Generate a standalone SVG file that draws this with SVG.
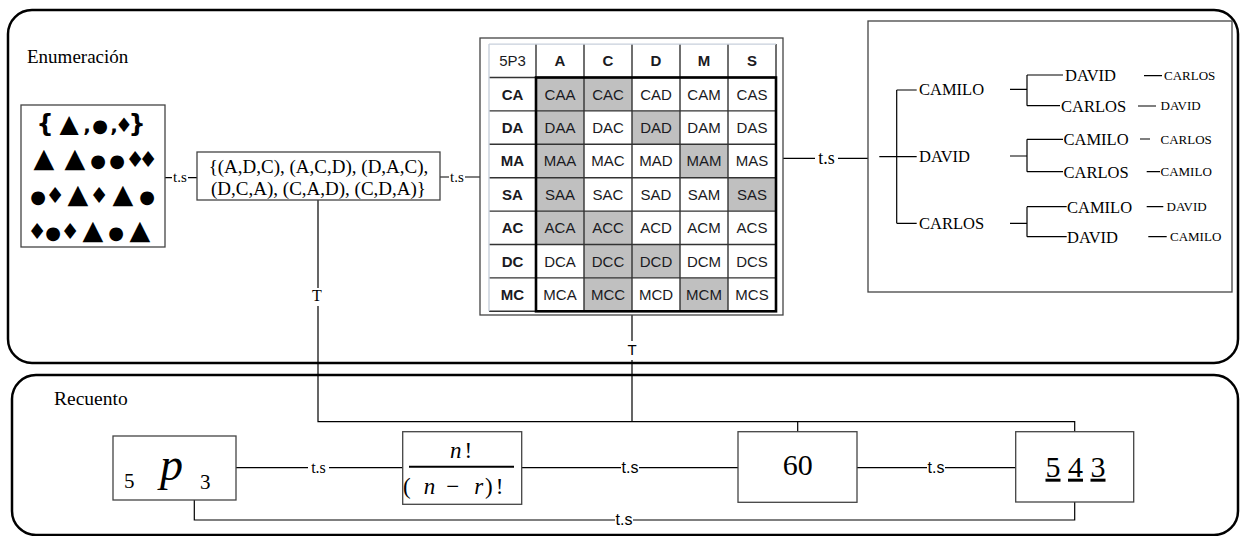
<svg xmlns="http://www.w3.org/2000/svg" width="1241" height="536" viewBox="0 0 1241 536">
<style>
.frame{fill:none;stroke:#000;stroke-width:2.5}
.box{fill:#fff;stroke:#444;stroke-width:1.3}
.ln{fill:none;stroke:#000;stroke-width:1.2}
.tm{font-family:"Liberation Serif","Times New Roman",serif;fill:#000}
.sn{font-family:"Liberation Sans",Arial,sans-serif;fill:#000}
.sym{font-family:"DejaVu Sans",sans-serif;fill:#000;text-anchor:middle}
.th{font-family:"Liberation Sans",Arial,sans-serif;font-size:15px;fill:#1a1a22;text-anchor:middle}
.tb{font-weight:bold}
.sh{fill:#c0c0c0}
.gl{stroke:#333;stroke-width:1.4}
.tree{font-family:"Liberation Serif","Times New Roman",serif;fill:#000}
.t{font-size:27px}
.c{font-size:18px}
.d{font-size:22px}
</style>
<rect width="1241" height="536" fill="#fff"/>
<g id="enumeracion">
<rect class="frame" x="8" y="10" width="1230" height="353" rx="24"/>
<text class="tm" x="27" y="63" font-size="19">Enumeración</text>
</g>
<g id="recuento">
<rect class="frame" x="12" y="375" width="1226" height="160" rx="24"/>
<text class="tm" x="54" y="405" font-size="19.5">Recuento</text>
</g>
<g id="connectors">
<path class="ln" d="M165,177.7H172M188,177.7H197"/>
<text class="tm" x="180" y="182" font-size="15" text-anchor="middle">t.s</text>
<path class="ln" d="M440,177H449M465,177H480"/>
<text class="tm" x="457" y="182" font-size="15" text-anchor="middle">t.s</text>
<path class="ln" d="M783,158.3H815M838,158.3H868"/>
<text class="tm" x="826.5" y="163.5" font-size="18" text-anchor="middle">t.s</text>
<path class="ln" d="M318,200V288M318,306V421.7H1074.7V432"/>
<text class="tm" x="317" y="301" font-size="16" text-anchor="middle">T</text>
<path class="ln" d="M632,315V341M632,360V421.7M797.7,421.7V432"/>
<text class="sn" x="632" y="355" font-size="15" text-anchor="middle">T</text>
<path class="ln" d="M236,467.7H308M329,467.7H403"/>
<text class="tm" x="318.5" y="472.5" font-size="16" text-anchor="middle">t.s</text>
<path class="ln" d="M521.7,467.7H621M639,467.7H738"/>
<text class="sn" x="630" y="473" font-size="16" text-anchor="middle">t.s</text>
<path class="ln" d="M857,467.7H927M945,467.7H1016"/>
<text class="sn" x="936" y="473" font-size="16" text-anchor="middle">t.s</text>
<path class="ln" d="M194.3,500V520H615M633,520H1074.7V502"/>
<text class="sn" x="624" y="525" font-size="16" text-anchor="middle">t.s</text>
</g>
<g id="simbolos">
<rect class="box" x="21" y="105" width="144" height="142"/>
<text class="sym" y="132"><tspan x="45" font-size="24" font-weight="bold">{</tspan><tspan x="69" font-size="25">▲</tspan><tspan x="87" font-size="20" font-weight="bold">,</tspan><tspan x="100" font-size="18">●</tspan><tspan x="114" font-size="20" font-weight="bold">,</tspan><tspan x="124" font-size="20">♦</tspan><tspan x="137" font-size="24" font-weight="bold">}</tspan></text>
<text class="sym" y="167"><tspan x="44" class="t">▲</tspan><tspan x="75" class="t">▲</tspan><tspan x="98" class="c">●</tspan><tspan x="117" class="c">●</tspan><tspan x="135" class="d">♦</tspan><tspan x="148" class="d">♦</tspan></text>
<text class="sym" y="203"><tspan x="38" class="c">●</tspan><tspan x="55" class="d">♦</tspan><tspan x="78" class="t">▲</tspan><tspan x="99" class="d">♦</tspan><tspan x="123" class="t">▲</tspan><tspan x="147" class="c">●</tspan></text>
<text class="sym" y="239"><tspan x="37" class="d">♦</tspan><tspan x="53" class="c">●</tspan><tspan x="70" class="d">♦</tspan><tspan x="93" class="t">▲</tspan><tspan x="116" class="c">●</tspan><tspan x="140" class="t">▲</tspan></text>
</g>
<g id="conjunto">
<rect class="box" x="197" y="152" width="243" height="48"/>
<text class="tm" x="318.5" y="173" font-size="19" text-anchor="middle">{(A,D,C), (A,C,D), (D,A,C),</text>
<text class="tm" x="318.5" y="195" font-size="19" text-anchor="middle">(D,C,A), (C,A,D), (C,D,A)}</text>
</g>
<g id="tabla">
<rect class="box" x="480" y="38" width="303" height="277"/>
<rect x="489" y="44.1" width="287" height="267.2" fill="#fff"/>
<rect class="sh" x="536" y="77.5" width="48" height="33.4"/>
<rect class="sh" x="584" y="77.5" width="48" height="33.4"/>
<rect class="sh" x="536" y="110.9" width="48" height="33.4"/>
<rect class="sh" x="632" y="110.9" width="48" height="33.4"/>
<rect class="sh" x="536" y="144.3" width="48" height="33.4"/>
<rect class="sh" x="680" y="144.3" width="48" height="33.4"/>
<rect class="sh" x="536" y="177.7" width="48" height="33.4"/>
<rect class="sh" x="728" y="177.7" width="48" height="33.4"/>
<rect class="sh" x="536" y="211.1" width="48" height="33.4"/>
<rect class="sh" x="584" y="211.1" width="48" height="33.4"/>
<rect class="sh" x="584" y="244.5" width="48" height="33.4"/>
<rect class="sh" x="632" y="244.5" width="48" height="33.4"/>
<rect class="sh" x="584" y="277.9" width="48" height="33.4"/>
<rect class="sh" x="680" y="277.9" width="48" height="33.4"/>
<path class="gl" d="M536,44.1V311.3M584,44.1V311.3M632,44.1V311.3M680,44.1V311.3M728,44.1V311.3M776,44.1V77.5M489,77.5H776M489,110.9H776M489,144.3H776M489,177.7H776M489,211.1H776M489,244.5H776M489,277.9H776M489,311.3H536"/>
<path d="M489,44.1H776M489,44.1V311.3" stroke="#c8d0dc" stroke-width="1.4" fill="none"/>
<rect x="536" y="77.5" width="240" height="233.8" fill="none" stroke="#000" stroke-width="2.6"/>
<text class="th" y="66.1"><tspan x="512.5">5P3</tspan><tspan x="560" class="tb">A</tspan><tspan x="608" class="tb">C</tspan><tspan x="656" class="tb">D</tspan><tspan x="704" class="tb">M</tspan><tspan x="752" class="tb">S</tspan></text>
<text class="th" y="99.5"><tspan x="512.5" class="tb">CA</tspan><tspan x="560">CAA</tspan><tspan x="608">CAC</tspan><tspan x="656">CAD</tspan><tspan x="704">CAM</tspan><tspan x="752">CAS</tspan></text>
<text class="th" y="132.9"><tspan x="512.5" class="tb">DA</tspan><tspan x="560">DAA</tspan><tspan x="608">DAC</tspan><tspan x="656">DAD</tspan><tspan x="704">DAM</tspan><tspan x="752">DAS</tspan></text>
<text class="th" y="166.3"><tspan x="512.5" class="tb">MA</tspan><tspan x="560">MAA</tspan><tspan x="608">MAC</tspan><tspan x="656">MAD</tspan><tspan x="704">MAM</tspan><tspan x="752">MAS</tspan></text>
<text class="th" y="199.7"><tspan x="512.5" class="tb">SA</tspan><tspan x="560">SAA</tspan><tspan x="608">SAC</tspan><tspan x="656">SAD</tspan><tspan x="704">SAM</tspan><tspan x="752">SAS</tspan></text>
<text class="th" y="233.1"><tspan x="512.5" class="tb">AC</tspan><tspan x="560">ACA</tspan><tspan x="608">ACC</tspan><tspan x="656">ACD</tspan><tspan x="704">ACM</tspan><tspan x="752">ACS</tspan></text>
<text class="th" y="266.5"><tspan x="512.5" class="tb">DC</tspan><tspan x="560">DCA</tspan><tspan x="608">DCC</tspan><tspan x="656">DCD</tspan><tspan x="704">DCM</tspan><tspan x="752">DCS</tspan></text>
<text class="th" y="299.9"><tspan x="512.5" class="tb">MC</tspan><tspan x="560">MCA</tspan><tspan x="608">MCC</tspan><tspan x="656">MCD</tspan><tspan x="704">MCM</tspan><tspan x="752">MCS</tspan></text>
</g>
<g id="arbol">
<rect class="box" x="868" y="21" width="364" height="271"/>
<path class="ln" d="M879.3,156.7H916.7M896.7,90V223.3M896.7,90H916.7M896.7,223.3H916.7"/>
<text class="tree" font-size="16.5" x="919" y="95">CAMILO</text>
<text class="tree" font-size="16.5" x="919" y="162">DAVID</text>
<text class="tree" font-size="16.5" x="919" y="229">CARLOS</text>
<path class="ln" d="M1010,89.3H1027M1027,75V105.7M1027,75H1063M1027,105.7H1060"/>
<text class="tree" font-size="16.5" x="1065" y="81">DAVID</text>
<text class="tree" font-size="16.5" x="1061" y="112">CARLOS</text>
<path class="ln" d="M1144,75.7H1162M1138,106H1156"/>
<text class="tree" font-size="13" x="1164" y="80">CARLOS</text>
<text class="tree" font-size="13" x="1160.5" y="110">DAVID</text>
<path class="ln" d="M1010,156H1027M1027,139.3V171.7M1027,139.3H1063M1027,171.7H1063"/>
<text class="tree" font-size="16.5" x="1063.5" y="145">CAMILO</text>
<text class="tree" font-size="16.5" x="1063.5" y="178">CARLOS</text>
<path class="ln" d="M1140,139H1150M1146.7,171.7H1160"/>
<text class="tree" font-size="13" x="1160.5" y="144">CARLOS</text>
<text class="tree" font-size="13" x="1160.5" y="176">CAMILO</text>
<path class="ln" d="M1010,223.3H1027M1027,206.7V236.7M1027,206.7H1066.7M1027,236.7H1066.7"/>
<text class="tree" font-size="16.5" x="1067" y="212.5">CAMILO</text>
<text class="tree" font-size="16.5" x="1067" y="243">DAVID</text>
<path class="ln" d="M1146.7,206.7H1163.3M1148.3,236.7H1166.7"/>
<text class="tree" font-size="13" x="1166.5" y="211">DAVID</text>
<text class="tree" font-size="13" x="1170" y="241">CAMILO</text>
</g>
<g id="p53">
<rect class="box" x="113" y="436" width="123" height="64"/>
<text class="tm" x="124" y="488" font-size="21">5</text>
<text class="tm" x="160" y="480" font-size="46" font-style="italic">p</text>
<text class="tm" x="200" y="489" font-size="21">3</text>
</g>
<g id="formula">
<rect class="box" x="402.7" y="431.7" width="119" height="72.6"/>
<text class="tm" x="450" y="457.7" font-size="23"><tspan font-style="italic">n</tspan><tspan dx="3">!</tspan></text>
<line x1="409" y1="466.7" x2="514" y2="466.7" stroke="#000" stroke-width="2"/>
<text class="tm" y="494" font-size="23" x="403"><tspan>(</tspan><tspan font-style="italic" dx="13">n</tspan><tspan dx="11">−</tspan><tspan font-style="italic" dx="15">r</tspan><tspan dx="2">)</tspan><tspan dx="3">!</tspan></text>
</g>
<g id="sesenta">
<rect class="box" x="738" y="431.7" width="119" height="70.6"/>
<text class="tm" x="797.7" y="475" font-size="30" text-anchor="middle">60</text>
</g>
<g id="producto">
<rect class="box" x="1015.7" y="431.7" width="118" height="70.3"/>
<text class="tm" x="1045.5" y="476.7" font-size="30"><tspan text-decoration="underline">5</tspan> <tspan text-decoration="underline">4</tspan> <tspan text-decoration="underline">3</tspan></text>
</g>
</svg>
